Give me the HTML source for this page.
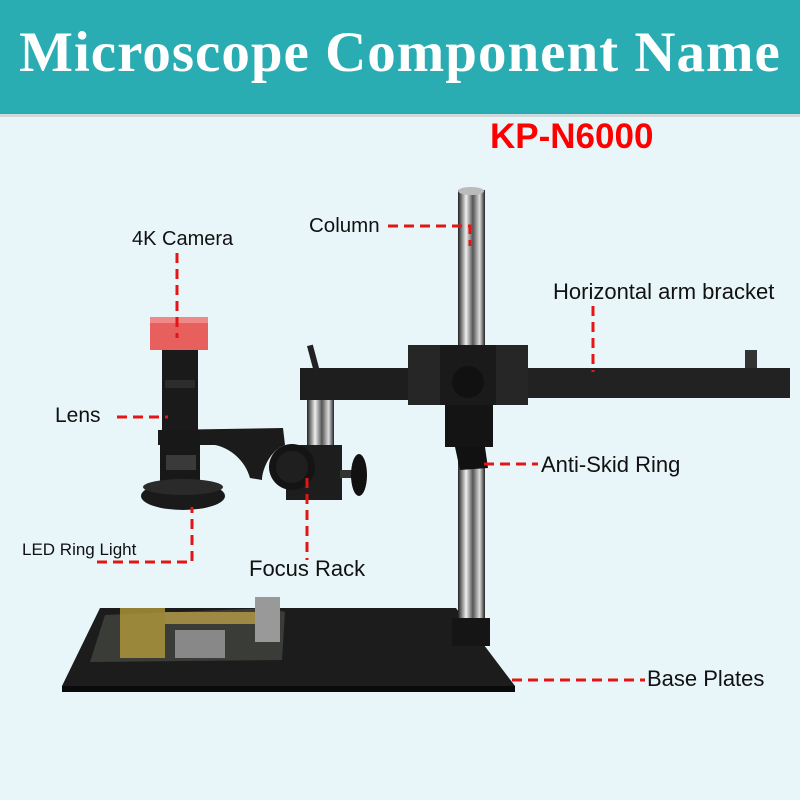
<!DOCTYPE html>
<html><head><style>
body{margin:0;width:800px;height:800px;background:#e8f6fa;overflow:hidden;position:relative;font-family:"Liberation Sans",sans-serif}
.hd{position:absolute;left:0;top:0;width:800px;height:114px;background:#2aacb3;border-bottom:3px solid #cfd8da}
.hd div{position:absolute;left:0;width:800px;top:20px;text-align:center;color:#fff;font-family:"Liberation Serif",serif;font-size:57px;font-weight:bold;letter-spacing:1px}
.kp{position:absolute;left:490px;top:117px;color:#f00;font-weight:bold;font-size:35px}
.l{position:absolute;font-size:20px;color:#111;white-space:nowrap}
</style></head><body>
<div class="hd"><div>Microscope Component Name</div></div>
<div class="kp">KP-N6000</div>
<svg width="800" height="800" style="position:absolute;left:0;top:0">
<defs>
<linearGradient id="pole" x1="0" x2="1"><stop offset="0" stop-color="#222"/><stop offset=".3" stop-color="#eee"/><stop offset=".55" stop-color="#555"/><stop offset=".8" stop-color="#ddd"/><stop offset="1" stop-color="#222"/></linearGradient>
</defs>
<polygon points="100,608 456,608 515,686 62,686" fill="#1c1c1c"/>
<polygon points="62,686 515,686 515,692 62,692" fill="#0a0a0a"/>
<polygon points="105,615 270,608 285,612 282,660 90,662" fill="#3a3c38"/>
<rect x="120" y="608" width="45" height="50" fill="#b39a3a" opacity=".8"/>
<rect x="165" y="612" width="90" height="12" fill="#c8a94a" opacity=".7"/>
<rect x="175" y="630" width="50" height="28" fill="#888"/>
<rect x="255" y="597" width="25" height="45" fill="#999"/>
<rect x="458" y="190" width="27" height="440" fill="url(#pole)"/>
<ellipse cx="471" cy="191" rx="13" ry="4" fill="#bbb"/>
<rect x="452" y="618" width="38" height="28" fill="#151515"/>
<rect x="300" y="368" width="110" height="32" fill="#1e1e1e"/>
<rect x="527" y="368" width="263" height="30" fill="#222"/>
<rect x="745" y="350" width="12" height="18" fill="#333"/>
<rect x="310" y="345" width="6" height="25" fill="#222" transform="rotate(-15 313 357)"/>
<rect x="408" y="345" width="120" height="60" fill="#262626"/>
<rect x="440" y="345" width="56" height="60" fill="#1a1a1a"/>
<circle cx="468" cy="382" r="16" fill="#111"/>
<rect x="445" y="405" width="48" height="42" fill="#141414"/>
<polygon points="455,447 485,447 488,468 460,470" fill="#111"/>
<rect x="307" y="400" width="27" height="48" fill="url(#pole)"/>
<rect x="286" y="445" width="56" height="55" fill="#1d1d1d"/>
<circle cx="292" cy="467" r="23" fill="#141414"/>
<circle cx="292" cy="467" r="16" fill="#1f1f1f"/>
<rect x="340" y="470" width="12" height="8" fill="#333"/>
<ellipse cx="359" cy="475" rx="8" ry="21" fill="#111"/>
<path d="M158,430 L283,428 L285,445 C270,450 262,470 262,480 L250,478 C245,460 230,448 215,445 L158,445 Z" fill="#1b1b1b"/>
<rect x="150" y="317" width="58" height="33" fill="#e8605e"/>
<rect x="150" y="317" width="58" height="6" fill="#f08a88"/>
<rect x="162" y="350" width="36" height="80" fill="#1a1a1a"/>
<rect x="165" y="380" width="30" height="8" fill="#2c2c2c"/>
<rect x="160" y="430" width="40" height="55" fill="#181818"/>
<rect x="166" y="455" width="30" height="15" fill="#3a3a3a"/>
<ellipse cx="183" cy="496" rx="42" ry="14" fill="#1a1a1a"/>
<ellipse cx="183" cy="487" rx="40" ry="8" fill="#2a2a2a"/>
<g stroke="#e51515" stroke-width="3" stroke-dasharray="10,6" fill="none">
<path d="M388,226 H470 V246"/>
<path d="M177,253 V338"/>
<path d="M593,306 V372"/>
<path d="M117,417 H168"/>
<path d="M484,464 H538"/>
<path d="M97,562 H192 V507"/>
<path d="M307,478 V560"/>
<path d="M512,680 H645"/>
</g>
</svg>
<div class="l" style="left:309px;top:214px;font-size:20.5px">Column</div>
<div class="l" style="left:132px;top:228px;font-size:20px">4K Camera</div>
<div class="l" style="left:553px;top:279px;font-size:22px">Horizontal arm bracket</div>
<div class="l" style="left:55px;top:404px;font-size:21px">Lens</div>
<div class="l" style="left:541px;top:452px;font-size:22px">Anti-Skid Ring</div>
<div class="l" style="left:22px;top:540px;font-size:17px">LED Ring Light</div>
<div class="l" style="left:249px;top:556px;font-size:22px">Focus Rack</div>
<div class="l" style="left:647px;top:666px;font-size:22px">Base Plates</div>
</body></html>
